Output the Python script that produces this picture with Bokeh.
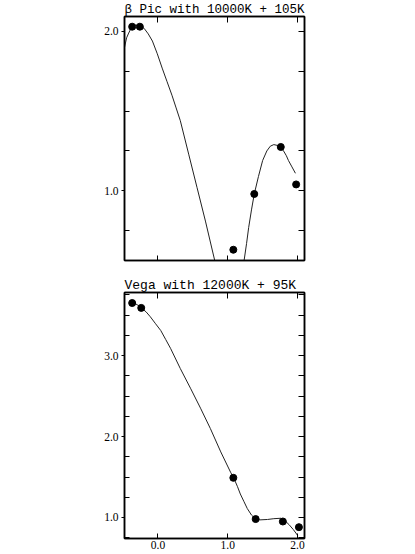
import numpy as np
from bokeh.plotting import figure
from bokeh.models import (LinearAxis, FixedTicker, Range1d, Title, PrintfTickFormatter,
                          CustomJSTickFormatter)
from bokeh.layouts import column
from bokeh.embed import file_html
from bokeh.resources import INLINE

nan = float("nan")

# ---- Top panel: beta Pic with 10000K + 105K ----
bpic_title = "β Pic with 10000K + 105K"
bpic_obs_x = [-0.37, -0.26, 1.08, 1.38, 1.76, 1.98]
bpic_obs_y = [2.03, 2.03, 0.63, 0.98, 1.275, 1.04]
bpic_model_x = [-0.48, -0.45, -0.42, -0.38, -0.32, -0.26, -0.20, -0.14, -0.08, -0.01, 0.06,
                0.13, 0.20, 0.26, 0.32, 0.44, 0.56, 0.68, 0.82,
                nan, 1.23, 1.27, 1.30, 1.34, 1.38, 1.44, 1.50, 1.56, 1.61, 1.66, 1.71,
                1.76, 1.80, 1.84, 1.87, 1.92, 1.97]
bpic_model_y = [1.90, 1.96, 1.99, 2.025, 2.04, 2.035, 2.02, 1.985, 1.94, 1.86, 1.77,
                1.685, 1.60, 1.52, 1.44, 1.23, 1.02, 0.81, 0.55,
                nan, 0.55, 0.67, 0.77, 0.88, 0.98, 1.09, 1.19, 1.25, 1.28, 1.29, 1.285,
                1.27, 1.25, 1.22, 1.19, 1.15, 1.11]
bpic_y_major = [1.0, 2.0]
bpic_y_minor = [0.75, 1.25, 1.5, 1.75]

# ---- Bottom panel: Vega with 12000K + 95K ----
vega_title = "Vega with 12000K + 95K"
vega_obs_x = [-0.37, -0.24, 1.08, 1.40, 1.79, 2.02]
vega_obs_y = [3.65, 3.59, 1.49, 0.98, 0.95, 0.88]
vega_model_x = [-0.39, -0.37, -0.30, -0.24, -0.17, -0.11, -0.04, 0.04, 0.11, 0.18, 0.32,
                0.47, 0.61, 0.75, 0.90, 1.04, 1.09, 1.14, 1.18, 1.23, 1.28, 1.34, 1.40,
                1.46, 1.57, 1.66, 1.76, 1.82, 1.88, 1.94, 2.00]
vega_model_y = [3.64, 3.66, 3.63, 3.59, 3.54, 3.48, 3.40, 3.31, 3.20, 3.09, 2.84,
                2.59, 2.35, 2.10, 1.81, 1.56, 1.48, 1.38, 1.29, 1.20, 1.11, 1.03, 0.98,
                0.97, 0.975, 0.985, 0.99, 0.96, 0.91, 0.85, 0.78]
vega_y_major = [1.0, 2.0, 3.0]
vega_y_minor = [0.75, 1.25, 1.5, 1.75, 2.25, 2.5, 2.75, 3.25, 3.5, 3.75]

x_ticks = [0.0, 1.0, 2.0]

FONT = "Liberation Serif"
TFONT = "Liberation Mono"


def style_axis(ax, ticks, minor=None, tin=6, tout=0, labels=False):
    ax.ticker = FixedTicker(ticks=ticks, minor_ticks=minor or [])
    ax.axis_line_color = "black"
    ax.axis_line_width = 1.5
    ax.major_tick_line_color = "black"
    ax.major_tick_line_width = 1
    ax.major_tick_in = tin
    ax.major_tick_out = tout
    ax.minor_tick_line_color = "black"
    ax.minor_tick_in = 5
    ax.minor_tick_out = 0
    ax.major_label_text_font = FONT
    ax.major_label_text_color = "black"
    if labels:
        ax.major_label_text_font_size = "11.5px"
        ax.formatter = PrintfTickFormatter(format="%.1f")
        ax.major_label_standoff = 2
    else:
        ax.major_label_text_font_size = "1px"
        ax.formatter = CustomJSTickFormatter(code="return ''")
        ax.major_label_standoff = 0


def make_panel(title, title_size, yr, model_x, model_y, obs_x, obs_y, ymaj, ymin,
               height, top, bottom, xlabels):
    p = figure(width=328, height=height, x_range=Range1d(-0.48, 2.10), y_range=yr,
               output_backend="svg", toolbar_location=None,
               min_border_left=124, min_border_right=24,
               min_border_top=top, min_border_bottom=bottom)
    p.title = Title(text=title, align="left", text_font=TFONT,
                    text_font_size=title_size, text_font_style="normal",
                    text_color="black", standoff=0, offset=0)
    p.xgrid.visible = False
    p.ygrid.visible = False
    p.outline_line_color = "black"
    p.outline_line_width = 1.5
    p.background_fill_color = "white"
    p.border_fill_color = "white"

    style_axis(p.xaxis[0], x_ticks, tin=5, labels=xlabels)
    style_axis(p.yaxis[0], ymaj, ymin, tin=0, tout=3, labels=True)
    p.yaxis[0].major_label_standoff = 3

    top_ax = LinearAxis()
    style_axis(top_ax, x_ticks, tin=6)
    p.add_layout(top_ax, "above")
    right_ax = LinearAxis()
    style_axis(right_ax, sorted(ymaj + ymin), tin=6)
    p.add_layout(right_ax, "right")

    p.line(model_x, model_y, line_color="#222222", line_width=1)
    p.scatter(obs_x, obs_y, size=7, fill_color="black", line_color="black")
    return p


p1 = make_panel(bpic_title, "12.5px", Range1d(0.5625, 2.094), bpic_model_x, bpic_model_y,
                bpic_obs_x, bpic_obs_y, bpic_y_major, bpic_y_minor,
                height=271, top=15, bottom=11, xlabels=False)
p2 = make_panel(vega_title, "13px", Range1d(0.74, 3.78), vega_model_x, vega_model_y,
                vega_obs_x, vega_obs_y, vega_y_major, vega_y_minor,
                height=282, top=21, bottom=15, xlabels=True)

layout = column(p1, p2, spacing=0)
open("out.html", "w").write(file_html(layout, INLINE))
